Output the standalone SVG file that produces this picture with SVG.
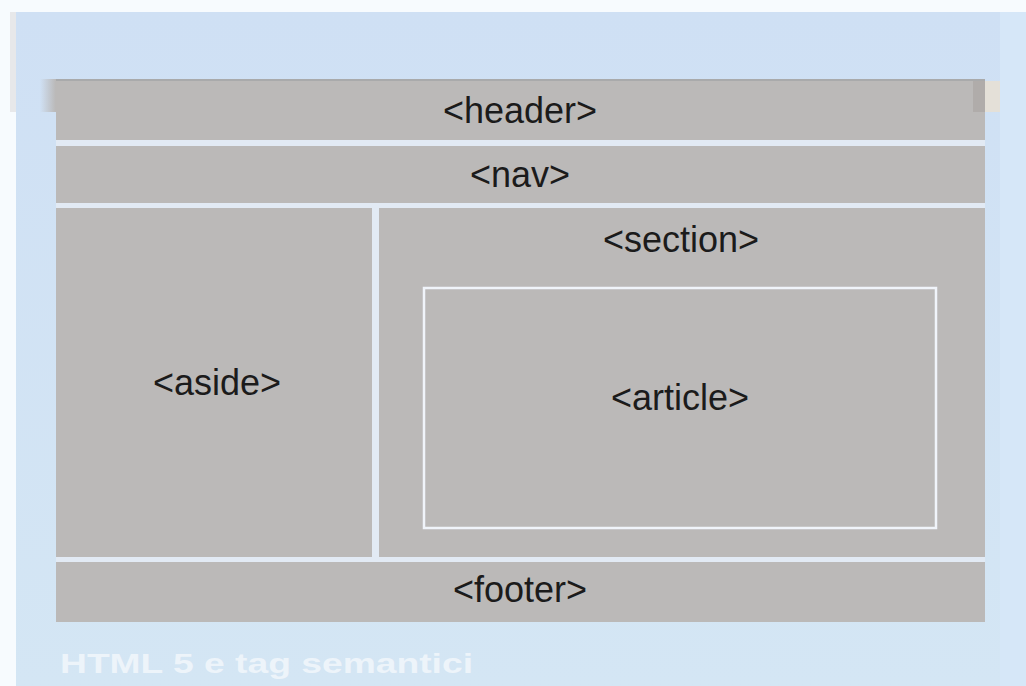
<svg xmlns="http://www.w3.org/2000/svg" width="1026" height="686" viewBox="0 0 1026 686">
  <defs>
    <linearGradient id="fadeL" x1="0" y1="0" x2="1" y2="0">
      <stop offset="0" stop-color="#bab8b7" stop-opacity="0"/>
      <stop offset="1" stop-color="#bab8b7" stop-opacity="1"/>
    </linearGradient>
    <linearGradient id="bg" x1="0" y1="0" x2="0" y2="1">
      <stop offset="0" stop-color="#cfe0f4"/>
      <stop offset="1" stop-color="#d4e6f4"/>
    </linearGradient>
  </defs>
  <style>
    .box { fill: #bbb9b8; }
    .gap { fill: #e2eaf4; }
    .lbl { font-family: "Liberation Sans", Arial, sans-serif; font-size: 36px; fill: #1b1b1b; text-anchor: middle; }
    .cap { font-family: "Liberation Sans", Arial, sans-serif; font-size: 28px; font-weight: bold; fill: #f4f8fc; }
  </style>
  <rect x="0" y="0" width="1026" height="686" fill="#f7fbfe"/>
  <rect x="16" y="12" width="984" height="674" fill="url(#bg)"/>
  <rect x="1000" y="12" width="26" height="674" fill="#d6e7f8"/>
  <rect x="10" y="12" width="6" height="100" fill="#dcdcdc" opacity="0.6"/>

  <g id="gaps">
    <rect class="gap" x="56" y="140" width="929" height="6"/>
    <rect class="gap" x="56" y="203" width="929" height="5"/>
    <rect class="gap" x="372" y="208" width="7" height="349"/>
    <rect class="gap" x="56" y="557" width="929" height="5"/>
  </g>
  <g id="header">
    <rect x="40" y="79" width="16" height="33" fill="url(#fadeL)"/>
    <rect class="box" x="56" y="79" width="929" height="61"/>
    <rect x="56" y="79" width="929" height="2" fill="#a9aaab"/>
    <rect x="973" y="81" width="12" height="31" fill="#b0acaa"/>
    <rect x="985" y="81" width="15" height="31" fill="#e4e0d8"/>
    <text class="lbl" x="520" y="123">&lt;header&gt;</text>
  </g>
  <g id="nav">
    <rect class="box" x="56" y="146" width="929" height="57"/>
    <text class="lbl" x="520" y="187">&lt;nav&gt;</text>
  </g>
  <g id="aside">
    <rect class="box" x="56" y="208" width="316" height="349"/>
    <text class="lbl" x="217" y="395">&lt;aside&gt;</text>
  </g>
  <g id="section">
    <rect class="box" x="379" y="208" width="606" height="349"/>
    <text class="lbl" x="681" y="252">&lt;section&gt;</text>
  </g>
  <g id="article">
    <rect x="424" y="288" width="512" height="240" fill="#bbb9b8" stroke="#f0f4fa" stroke-width="2.5"/>
    <text class="lbl" x="680" y="410">&lt;article&gt;</text>
  </g>
  <g id="footer">
    <rect class="box" x="56" y="562" width="929" height="60"/>
    <text class="lbl" x="520" y="602">&lt;footer&gt;</text>
  </g>
  <g id="caption" opacity="0.8">
    <text class="cap" x="60" y="673" textLength="413" lengthAdjust="spacingAndGlyphs">HTML 5 e tag semantici</text>
  </g>
</svg>
